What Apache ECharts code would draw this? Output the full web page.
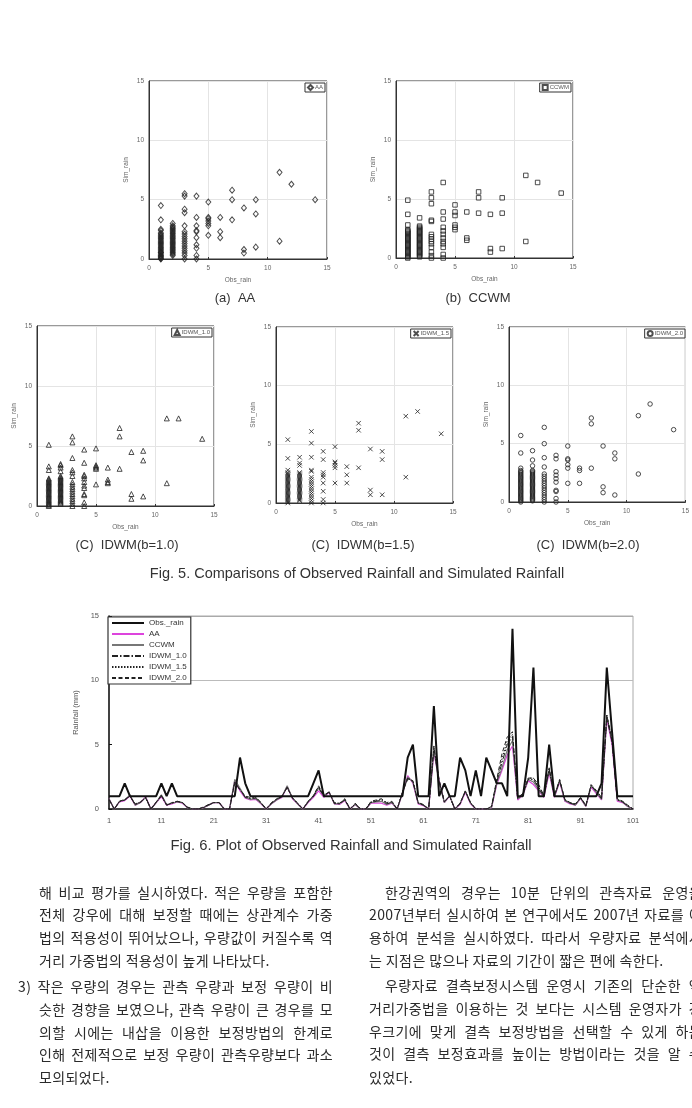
<!DOCTYPE html>
<html>
<head>
<meta charset="utf-8">
<script src="https://cdn.jsdelivr.net/npm/echarts@6/dist/echarts.min.js"></script>
<style>
html, body { margin: 0; padding: 0; background: #fff; }
#page { position: relative; width: 692px; height: 1108px; overflow: hidden; background: #fff; }
#chart { position: absolute; left: 0; top: 0; width: 692px; height: 1108px; }
.ln { position: absolute; height: 20px; line-height: 20px; font-family: "Noto Sans CJK KR"; font-size: 14px;
      color: #2a2a2a; white-space: nowrap; letter-spacing: 0.4px; }
.jl { text-align: justify; text-align-last: justify; white-space: normal; overflow: hidden; }
</style>
</head>
<body>
<div id="page">
  <div id="chart"></div>
  <!-- left column -->
  <div class="ln jl" style="left:39px;top:882px;width:294px">해 비교 평가를 실시하였다. 적은 우량을 포함한</div>
  <div class="ln jl" style="left:39px;top:904px;width:294px">전체 강우에 대해 보정할 때에는 상관계수 가중</div>
  <div class="ln jl" style="left:39px;top:927px;width:294px">법의 적용성이 뛰어났으나, 우량값이 커질수록 역</div>
  <div class="ln" style="left:39px;top:950px">거리 가중법의 적용성이 높게 나타났다.</div>
  <div class="ln jl" style="left:18px;top:976px;width:315px">3) 작은 우량의 경우는 관측 우량과 보정 우량이 비</div>
  <div class="ln jl" style="left:39px;top:999px;width:294px">슷한 경향을 보였으나, 관측 우량이 큰 경우를 모</div>
  <div class="ln jl" style="left:39px;top:1022px;width:294px">의할 시에는 내삽을 이용한 보정방법의 한계로</div>
  <div class="ln jl" style="left:39px;top:1044px;width:294px">인해 전제적으로 보정 우량이 관측우량보다 과소</div>
  <div class="ln" style="left:39px;top:1067px">모의되었다.</div>
  <!-- right column -->
  <div class="ln jl" style="left:385px;top:882px;width:317px">한강권역의 경우는 10분 단위의 관측자료 운영을</div>
  <div class="ln jl" style="left:369px;top:904px;width:333px">2007년부터 실시하여 본 연구에서도 2007년 자료를 이</div>
  <div class="ln jl" style="left:369px;top:927px;width:333px">용하여 분석을 실시하였다. 따라서 우량자료 분석에서</div>
  <div class="ln" style="left:369px;top:950px">는 지점은 많으나 자료의 기간이 짧은 편에 속한다.</div>
  <div class="ln jl" style="left:385px;top:975px;width:317px">우량자료 결측보정시스템 운영시 기존의 단순한 역</div>
  <div class="ln jl" style="left:369px;top:998px;width:333px">거리가중법을 이용하는 것 보다는 시스템 운영자가 강</div>
  <div class="ln jl" style="left:369px;top:1021px;width:333px">우크기에 맞게 결측 보정방법을 선택할 수 있게 하는</div>
  <div class="ln jl" style="left:369px;top:1043px;width:333px">것이 결측 보정효과를 높이는 방법이라는 것을 알 수</div>
  <div class="ln" style="left:369px;top:1067px">있었다.</div>
</div>
<script>
// ---- Fig. 5 scatter data: [observed rain, [simulated rain values]] ----
var scatterAA = [
  [1, [0, 0.05, 0.1, 0.2, 0.25, 0.3, 0.4, 0.5, 0.55, 0.6, 0.7, 0.8, 0.9, 1.0, 1.1, 1.2, 1.3, 1.4, 1.5, 1.6, 1.7, 1.8, 1.9, 2.0, 2.1, 2.2, 2.4, 2.5, 3.3, 4.5]],
  [2, [0.3, 0.4, 0.5, 0.6, 0.7, 0.8, 0.9, 1.0, 1.1, 1.2, 1.3, 1.4, 1.5, 1.6, 1.7, 1.8, 1.9, 2.0, 2.1, 2.2, 2.3, 2.4, 2.5, 2.6, 2.7, 2.8, 3.0]],
  [3, [0, 0.3, 0.5, 0.7, 0.9, 1.1, 1.3, 1.5, 1.7, 1.9, 2.1, 2.3, 2.8, 3.9, 4.2, 5.3, 5.5]],
  [4, [0, 0.3, 0.9, 1.2, 1.8, 2.3, 2.4, 2.8, 3.5, 5.3]],
  [5, [2.0, 2.8, 3.0, 3.2, 3.4, 3.5, 4.8]],
  [6, [1.8, 2.3, 3.5]],
  [7, [3.3, 5.0, 5.8]],
  [8, [0.5, 0.8, 4.3]],
  [9, [1.0, 3.8, 5.0]],
  [11, [1.5, 7.3]],
  [12, [6.3]],
  [14, [5.0]]
];
var scatterCCWM = [
  [1, [0, 0.1, 0.2, 0.3, 0.4, 0.5, 0.6, 0.7, 0.8, 0.9, 1.0, 1.1, 1.2, 1.3, 1.4, 1.5, 1.6, 1.7, 1.8, 1.9, 2.0, 2.1, 2.2, 2.3, 2.4, 2.8, 3.7, 4.9]],
  [2, [0.1, 0.2, 0.3, 0.4, 0.5, 0.6, 0.7, 0.8, 0.9, 1.0, 1.1, 1.2, 1.3, 1.4, 1.5, 1.6, 1.7, 1.8, 1.9, 2.0, 2.1, 2.2, 2.3, 2.4, 2.5, 2.6, 2.7, 3.4]],
  [3, [0, 0.2, 0.5, 0.9, 1.2, 1.4, 1.6, 1.8, 2.0, 3.1, 3.2, 4.6, 5.1, 5.6]],
  [4, [0, 0.3, 0.9, 1.2, 1.4, 1.7, 2.0, 2.3, 2.6, 3.3, 3.9, 6.4]],
  [5, [2.4, 2.6, 2.8, 3.6, 3.9, 4.5]],
  [6, [1.5, 1.7, 3.9]],
  [7, [3.8, 5.1, 5.6]],
  [8, [0.5, 0.8, 3.7]],
  [9, [0.8, 3.8, 5.1]],
  [11, [1.4, 7.0]],
  [12, [6.4]],
  [14, [5.5]]
];
var scatterIDWM10 = [
  [1, [0, 0.1, 0.2, 0.3, 0.4, 0.5, 0.6, 0.7, 0.8, 0.9, 1.0, 1.1, 1.2, 1.3, 1.4, 1.5, 1.6, 1.7, 1.8, 1.9, 2.0, 2.1, 2.2, 2.3, 3.0, 3.3, 5.1]],
  [2, [0.2, 0.3, 0.4, 0.5, 0.6, 0.7, 0.8, 0.9, 1.0, 1.1, 1.2, 1.3, 1.4, 1.5, 1.6, 1.7, 1.8, 1.9, 2.0, 2.1, 2.2, 2.3, 2.4, 2.5, 2.9, 3.2, 3.4, 3.5]],
  [3, [0, 0.2, 0.4, 0.6, 0.8, 1.0, 1.2, 1.4, 1.6, 1.8, 2.0, 2.5, 2.8, 3.0, 4.0, 5.3, 5.8]],
  [4, [0, 0.3, 0.9, 1.0, 1.5, 1.7, 2.0, 2.3, 2.5, 2.6, 3.6, 4.7]],
  [5, [1.8, 3.1, 3.2, 3.3, 3.4, 4.8]],
  [6, [1.9, 2.0, 2.2, 3.2]],
  [7, [3.1, 5.8, 6.5]],
  [8, [0.6, 1.0, 4.5]],
  [9, [0.8, 3.8, 4.6]],
  [11, [1.9, 7.3]],
  [12, [7.3]],
  [14, [5.6]]
];
var scatterIDWM15 = [
  [1, [0, 0.1, 0.2, 0.3, 0.4, 0.5, 0.6, 0.7, 0.8, 0.9, 1.0, 1.1, 1.2, 1.3, 1.4, 1.5, 1.6, 1.7, 1.8, 1.9, 2.0, 2.1, 2.2, 2.3, 2.4, 2.5, 2.6, 2.8, 3.8, 5.4]],
  [2, [0.2, 0.3, 0.4, 0.5, 0.6, 0.7, 0.8, 0.9, 1.0, 1.1, 1.2, 1.3, 1.4, 1.5, 1.6, 1.7, 1.8, 1.9, 2.0, 2.1, 2.2, 2.3, 2.4, 2.5, 2.6, 3.2, 3.4, 3.9]],
  [3, [0, 0.2, 0.4, 0.6, 0.8, 1.0, 1.2, 1.4, 1.6, 1.8, 2.0, 2.2, 2.7, 2.8, 3.9, 5.1, 6.1]],
  [4, [0, 0.3, 1.0, 1.7, 2.2, 2.4, 2.6, 3.7, 4.4]],
  [5, [1.7, 3.0, 3.2, 3.4, 3.5, 4.8]],
  [6, [1.7, 2.4, 3.1]],
  [7, [3.0, 6.2, 6.8]],
  [8, [0.7, 1.1, 4.6]],
  [9, [0.7, 3.7, 4.4]],
  [11, [2.2, 7.4]],
  [12, [7.8]],
  [14, [5.9]]
];
var scatterIDWM20 = [
  [1, [0, 0.1, 0.2, 0.3, 0.4, 0.5, 0.6, 0.7, 0.8, 0.9, 1.0, 1.1, 1.2, 1.3, 1.4, 1.5, 1.6, 1.7, 1.8, 1.9, 2.0, 2.1, 2.2, 2.3, 2.4, 2.5, 2.6, 2.7, 2.9, 4.2, 5.7]],
  [2, [0.1, 0.2, 0.3, 0.4, 0.5, 0.6, 0.7, 0.8, 0.9, 1.0, 1.1, 1.2, 1.3, 1.4, 1.5, 1.6, 1.7, 1.8, 1.9, 2.0, 2.1, 2.2, 2.3, 2.4, 2.5, 2.6, 2.7, 3.1, 3.6, 4.4]],
  [3, [0, 0.2, 0.4, 0.6, 0.8, 1.0, 1.2, 1.4, 1.6, 1.8, 2.0, 2.2, 2.4, 3.0, 3.8, 5.0, 6.4]],
  [4, [0, 0.3, 0.9, 1.0, 1.7, 2.0, 2.3, 2.6, 3.7, 4.0]],
  [5, [1.6, 2.9, 3.2, 3.6, 3.7, 4.8]],
  [6, [1.6, 2.7, 2.9]],
  [7, [2.9, 6.7, 7.2]],
  [8, [0.8, 1.3, 4.8]],
  [9, [0.6, 3.7, 4.2]],
  [11, [2.4, 7.4]],
  [12, [8.4]],
  [14, [6.2]]
];
var scatterTicks = [0, 5, 10, 15];

// ---- Fig. 6 line data, time steps 1..101 ----
var timeSteps = [];
for (var t = 1; t <= 101; t++) timeSteps.push(String(t));

var obsRain = [
  1, 1, 1, 2, 1, 1, 1, 1, 1, 1,
  2, 1, 2, 1, 1, 1, 1, 1, 1, 1,
  1, 1, 1, 1, 1, 4, 2, 1, 1, 1,
  1, 1, 1, 1, 1, 1, 1, 1, 1, 2,
  3, 1, 1, 1, 1, 1, 1, 1, 1, 1,
  1, 1, 1, 1, 1, 1, 1, 4, 5, 1,
  1, 1, 8, 1, 2, 1, 1, 4, 3, 1,
  3, 1, 4, 3, 2, 2, 1, 14, 1, 1,
  4, 11, 1, 1, 5, 1, 1, 1, 1, 1,
  1, 1, 1, 1, 2, 11, 6, 1, 1, 1,
  1
];
var simAA = [
  0.8, 0, 0.55, 0.65, 1.0, 0.3, 0.5, 0.95, 0, 0.5,
  0.95, 0.3, 0.4, 0.55, 0.45, 0.1, 0, 0, 0.1, 0.3,
  0.5, 0.5, 0, 0, 2.2, 1.4, 0.85, 0.7, 0.75, 0.4,
  0, 0.4, 0.7, 0.9, 1.75, 0.8, 0.4, 0, 0.5, 0.9,
  1.4, 0.9, 1.3, 0.4, 0.35, 0.65, 0, 0.35, 0, 0,
  0.45, 0.45, 0.45, 0.3, 0.45, 0, 1.2, 2.6, 2.0, 0.4,
  0.25, 0, 4.4, 2.2, 0.5, 1.0, 0, 0.35, 1.3, 0.4,
  0, 0, 0, 0.1, 1.9, 3.0, 4.2, 4.9, 0.7, 1.1,
  2.2, 1.9, 1.4, 0.9, 2.8, 0.9, 2.1, 0.6, 0.4, 0.3,
  0.8, 0.2, 1.7, 1.2, 0.7, 7.0, 5.0, 0.6, 0.5, 0.2,
  0
];
var simCCWM = [
  0.8, 0, 0.6, 0.7, 1.1, 0.3, 0.5, 0.9, 0, 0.5,
  1.1, 0.35, 0.45, 0.55, 0.5, 0.1, 0, 0, 0.1, 0.3,
  0.5, 0.5, 0, 0, 2.3, 1.6, 0.9, 0.75, 0.8, 0.45,
  0, 0.4, 0.7, 0.95, 1.8, 0.85, 0.4, 0, 0.55, 1.0,
  1.7, 1.0, 1.35, 0.4, 0.4, 0.7, 0, 0.35, 0, 0,
  0.5, 0.55, 0.6, 0.35, 0.5, 0, 1.2, 2.5, 2.1, 0.45,
  0.3, 0, 4.6, 2.0, 0.5, 1.05, 0, 0.4, 1.4, 0.45,
  0, 0, 0, 0.1, 2.0, 3.2, 4.6, 5.3, 0.8, 1.1,
  2.3, 2.1, 1.5, 0.95, 3.0, 0.95, 2.2, 0.65, 0.45, 0.3,
  0.85, 0.2, 1.8, 1.3, 0.75, 7.2, 5.3, 0.7, 0.55, 0.2,
  0
];
var simIDWM10 = [
  0.75, 0, 0.55, 0.7, 1.0, 0.35, 0.5, 0.9, 0, 0.5,
  1.0, 0.3, 0.45, 0.6, 0.5, 0.1, 0, 0, 0.1, 0.3,
  0.5, 0.5, 0, 0, 2.1, 1.5, 0.9, 0.8, 0.85, 0.45,
  0, 0.45, 0.75, 0.95, 1.7, 0.85, 0.4, 0, 0.55, 0.95,
  1.6, 1.0, 1.3, 0.45, 0.4, 0.7, 0, 0.4, 0, 0,
  0.5, 0.6, 0.7, 0.4, 0.5, 0, 1.3, 2.4, 2.1, 0.45,
  0.3, 0, 4.7, 2.1, 0.55, 1.0, 0, 0.4, 1.35, 0.45,
  0, 0, 0, 0.15, 2.1, 3.6, 5.0, 5.6, 0.8, 1.15,
  2.3, 2.3, 1.6, 1.0, 3.1, 1.0, 2.2, 0.7, 0.45, 0.35,
  0.85, 0.25, 1.8, 1.35, 0.8, 7.1, 5.2, 0.7, 0.55, 0.25,
  0
];
var simIDWM15 = [
  0.75, 0, 0.6, 0.7, 1.0, 0.35, 0.55, 0.9, 0, 0.5,
  1.05, 0.3, 0.45, 0.6, 0.5, 0.1, 0, 0, 0.1, 0.35,
  0.5, 0.5, 0, 0, 2.1, 1.5, 0.95, 0.85, 0.9, 0.5,
  0, 0.45, 0.75, 1.0, 1.7, 0.9, 0.45, 0, 0.6, 1.0,
  1.7, 1.05, 1.3, 0.45, 0.45, 0.75, 0, 0.4, 0, 0,
  0.55, 0.65, 0.75, 0.45, 0.55, 0, 1.3, 2.4, 2.2, 0.5,
  0.3, 0, 4.8, 2.2, 0.55, 1.0, 0, 0.45, 1.4, 0.5,
  0, 0, 0, 0.2, 2.2, 3.9, 5.3, 5.8, 0.85, 1.2,
  2.4, 2.4, 1.7, 1.0, 3.1, 1.0, 2.25, 0.7, 0.5, 0.35,
  0.9, 0.25, 1.85, 1.4, 0.85, 7.3, 5.3, 0.75, 0.6, 0.25,
  0
];
var simIDWM20 = [
  0.7, 0, 0.6, 0.75, 1.0, 0.4, 0.55, 0.85, 0, 0.55,
  1.1, 0.3, 0.5, 0.6, 0.5, 0.15, 0, 0, 0.15, 0.35,
  0.5, 0.5, 0, 0, 2.0, 1.5, 1.0, 0.9, 0.95, 0.5,
  0, 0.5, 0.8, 1.0, 1.65, 0.9, 0.45, 0, 0.6, 1.05,
  1.8, 1.1, 1.3, 0.5, 0.45, 0.8, 0, 0.45, 0, 0,
  0.6, 0.7, 0.8, 0.5, 0.6, 0, 1.3, 2.3, 2.2, 0.5,
  0.35, 0, 4.9, 2.3, 0.6, 1.0, 0, 0.45, 1.4, 0.5,
  0, 0, 0, 0.2, 2.3, 4.3, 5.6, 6.0, 0.9, 1.2,
  2.4, 2.4, 1.9, 1.05, 3.2, 1.05, 2.3, 0.75, 0.5, 0.4,
  0.9, 0.3, 1.9, 1.45, 0.9, 7.3, 5.4, 0.8, 0.6, 0.3,
  0
];
var lineTicks = [0, 5, 10, 15];

// ---- layout ----
var FONT = 'Liberation Sans';
var scatterPanels = [
  { name: 'AA', data: scatterAA, symbol: 'diamond', size: [5, 6], box: { left: 149, top: 81, width: 178, height: 178 } },
  { name: 'CCWM', data: scatterCCWM, symbol: 'rect', size: 4.5, box: { left: 396, top: 81, width: 177, height: 177 } },
  { name: 'IDWM_1.0', data: scatterIDWM10, symbol: 'triangle', size: 5, box: { left: 37, top: 326, width: 177, height: 180 } },
  { name: 'IDWM_1.5', data: scatterIDWM15, symbol: 'path://M0,0L10,10M0,10L10,0', size: 4.5, box: { left: 276, top: 327, width: 177, height: 176 } },
  { name: 'IDWM_2.0', data: scatterIDWM20, symbol: 'circle', size: 4.5, box: { left: 509, top: 327, width: 178, height: 175 } }
];

function flatten(groups) {
  var out = [];
  groups.forEach(function (g) {
    g[1].forEach(function (v) { out.push([g[0], v]); });
  });
  return out;
}

var grid = [], xAxis = [], yAxis = [], series = [], legend = [];

scatterPanels.forEach(function (p, i) {
  grid.push(Object.assign({ show: true, borderColor: '#333', borderWidth: 1 }, p.box));
  xAxis.push({
    gridIndex: i, type: 'value', min: scatterTicks[0], max: scatterTicks[scatterTicks.length - 1], interval: 5,
    name: 'Obs_rain', nameLocation: 'middle', nameGap: 18,
    nameTextStyle: { fontSize: 6.5, color: '#666', fontFamily: FONT },
    axisLine: { show: true, lineStyle: { color: '#333' } },
    axisTick: { show: true, inside: true, length: 2, lineStyle: { color: '#333' } },
    axisLabel: { fontSize: 6.5, color: '#666', margin: 6, fontFamily: FONT },
    splitLine: { show: true, lineStyle: { color: '#e4e4e4', width: 1 } }
  });
  yAxis.push({
    gridIndex: i, type: 'value', min: scatterTicks[0], max: scatterTicks[scatterTicks.length - 1], interval: 5,
    name: 'Sim_rain', nameLocation: 'middle', nameGap: 19,
    nameTextStyle: { fontSize: 6.5, color: '#666', fontFamily: FONT },
    axisLine: { show: true, lineStyle: { color: '#333' } },
    axisTick: { show: false },
    axisLabel: { fontSize: 6.5, color: '#666', margin: 5, fontFamily: FONT },
    splitLine: { show: true, lineStyle: { color: '#e4e4e4', width: 1 } }
  });
  series.push({
    name: p.name, type: 'scatter', xAxisIndex: i, yAxisIndex: i,
    symbol: p.symbol, symbolSize: p.size,
    itemStyle: { color: 'rgba(255,255,255,0)', borderColor: '#222', borderWidth: 1 },
    data: flatten(p.data)
  });
  legend.push({
    data: [p.name],
    right: 692 - (p.box.left + p.box.width) + 2, top: p.box.top + 2,
    itemWidth: 5, itemHeight: 5, itemGap: 0, padding: [1, 2],
    borderColor: '#333', borderWidth: 1, backgroundColor: '#fff',
    textStyle: { fontSize: 6, color: '#555', fontFamily: FONT, padding: [0, 0, 0, -3] },
    selectedMode: false
  });
});

// Fig. 6 line chart
var LI = scatterPanels.length;
var lineSeriesDefs = [
  { name: 'Obs._rain', data: obsRain, color: '#111', width: 2, type: 'solid' },
  { name: 'AA', data: simAA, color: '#dd44dd', width: 1.2, type: 'solid' },
  { name: 'CCWM', data: simCCWM, color: '#777', width: 1.2, type: 'solid' },
  { name: 'IDWM_1.0', data: simIDWM10, color: '#222', width: 1, type: [6, 2, 1.5, 2] },
  { name: 'IDWM_1.5', data: simIDWM15, color: '#222', width: 1, type: [1.5, 1.5] },
  { name: 'IDWM_2.0', data: simIDWM20, color: '#222', width: 1, type: [4, 2.5] }
];
var PREFIX = 'fig6:';

grid.push({ left: 109, top: 616, width: 524, height: 193, show: true, borderColor: '#aaa', borderWidth: 1 });
xAxis.push({
  gridIndex: LI, type: 'category', data: timeSteps, boundaryGap: false,
  axisLine: { show: true, lineStyle: { color: '#111', width: 1.5 } },
  axisTick: { show: false },
  axisLabel: { interval: 9, fontSize: 7.5, color: '#555', margin: 8, fontFamily: FONT },
  splitLine: { show: false }
});
yAxis.push({
  gridIndex: LI, type: 'value', min: lineTicks[0], max: lineTicks[lineTicks.length - 1], interval: 5,
  name: 'Rainfall (mm)', nameLocation: 'middle', nameGap: 26,
  nameTextStyle: { fontSize: 7.5, color: '#555', fontFamily: FONT },
  axisLine: { show: true, lineStyle: { color: '#111', width: 1.5 } },
  axisTick: { show: true, inside: true, length: 3, lineStyle: { color: '#111' } },
  axisLabel: { fontSize: 7.5, color: '#555', margin: 10, fontFamily: FONT },
  splitLine: { show: true, lineStyle: { color: ['transparent', 'transparent', '#bbb', '#aaa'], width: 1.2 } }
});
// draw simulated lines first, observed on top
lineSeriesDefs.slice(1).concat([lineSeriesDefs[0]]).forEach(function (d) {
  series.push({
    name: PREFIX + d.name, type: 'line', xAxisIndex: LI, yAxisIndex: LI,
    symbol: 'none', data: d.data,
    lineStyle: { color: d.color, width: d.width, type: d.type },
    itemStyle: { color: d.color },
    animation: false
  });
});
legend.push({
  data: lineSeriesDefs.map(function (d) { return PREFIX + d.name; }),
  formatter: function (n) { return n.replace(PREFIX, ''); },
  orient: 'vertical', left: 108, top: 617,
  itemWidth: 32, itemHeight: 8, itemGap: 3, padding: [2, 4, 2, 3],
  borderColor: '#333', borderWidth: 1.2, backgroundColor: '#fff',
  itemStyle: { opacity: 0 },
  textStyle: { fontSize: 8, color: '#333', fontFamily: FONT },
  selectedMode: false
});

var captions = [
  { text: '(a)  AA', x: 235, y: 298, size: 13 },
  { text: '(b)  CCWM', x: 478, y: 298, size: 13 },
  { text: '(C)  IDWM(b=1.0)', x: 127, y: 545, size: 13 },
  { text: '(C)  IDWM(b=1.5)', x: 363, y: 545, size: 13 },
  { text: '(C)  IDWM(b=2.0)', x: 588, y: 545, size: 13 },
  { text: 'Fig. 5. Comparisons of Observed Rainfall and Simulated Rainfall', x: 357, y: 574, size: 14.5 },
  { text: 'Fig. 6. Plot of Observed Rainfall and Simulated Rainfall', x: 351, y: 846, size: 14.8 }
];

var chart = echarts.init(document.getElementById('chart'));
chart.setOption({
  animation: false,
  backgroundColor: 'transparent',
  grid: grid,
  xAxis: xAxis,
  yAxis: yAxis,
  legend: legend,
  series: series,
  graphic: captions.map(function (c) {
    return {
      type: 'text', x: c.x, y: c.y,
      style: { text: c.text, align: 'center', verticalAlign: 'middle', fill: '#333', font: c.size + 'px "' + FONT + '"' }
    };
  })
});
</script>
</body>
</html>
